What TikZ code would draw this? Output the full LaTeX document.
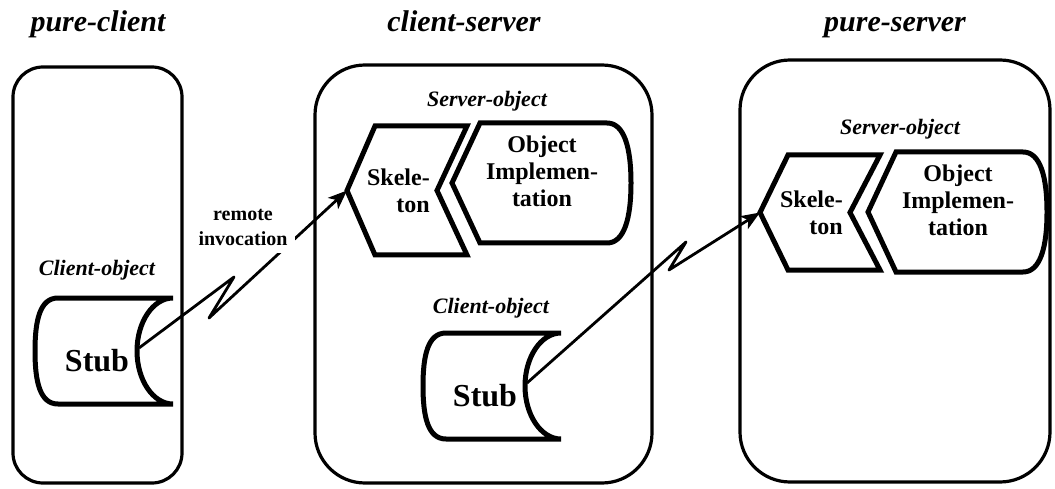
\documentclass[tikz,border=0pt]{standalone}
\usepackage{fontspec}
\setmainfont{Liberation Serif}
\usetikzlibrary{arrows.meta,calc}
\tikzset{>={Stealth[length=19pt,width=15pt,inset=5pt]}}
\tikzset{
  container/.style={line width=3.2pt,rounded corners=#1},
  partline/.style={line width=5pt},
  invoke/.style={->,line width=2.8pt,line join=round},
  title/.style={font=\bfseries\itshape\fontsize{30}{32}\selectfont,anchor=base},
  objlabel/.style={font=\bfseries\itshape\fontsize{22}{24}\selectfont,anchor=base},
  stubtext/.style={font=\bfseries\fontsize{32}{34}\selectfont,anchor=base},
  parttext/.style={font=\bfseries\fontsize{24}{27}\selectfont,inner sep=0pt},
  remote/.style={font=\bfseries\fontsize{20}{25}\selectfont,align=center,fill=white,inner sep=8pt},
}

% stub part: name, top-left corner
\newcommand{\stubpart}[2]{%
  \begin{scope}[shift={#2}]
    \draw[partline] (23,0) -- (138,0)
      .. controls (118,0) and (102,24) .. (102,53)
      .. controls (102,82) and (118,106) .. (138,106) -- (23,106)
      .. controls (5,106) and (0,84) .. (0,53)
      .. controls (0,22) and (5,0) .. (23,0) -- cycle;
    \node[stubtext] (#1) at (62,73) {Stub};
    \coordinate (#1-port) at (104,50);
  \end{scope}}

% skeleton part: name, tip x, top y, height
\newcommand{\skelpart}[4]{%
  \begin{scope}[shift={(#2,#3)}]
    \draw[partline] (28,0) -- (120,0) -- (90,#4/2) -- (120,#4) -- (28,#4) -- (0,#4/2) -- cycle;
    \node[parttext,anchor=east,align=right] (#1) at (83,#4/2) {Skele-\\ton};
    \coordinate (#1-tip) at (0,#4/2);
  \end{scope}}

% object implementation part: name, notch x, top y, height
\newcommand{\implpart}[4]{%
  \begin{scope}[shift={(#2,#3)}]
    \draw[partline] (0,#4/2) -- (28,0) -- (155,0)
      .. controls (172,0) and (179,#4*0.2) .. (179,#4/2)
      .. controls (179,#4*0.8) and (172,#4) .. (155,#4) -- (28,#4) -- cycle;
    \node[parttext,align=center] (#1) at (90,#4/2-12) {Object\\Implemen-\\tation};
  \end{scope}}

\begin{document}
\begin{tikzpicture}[x=1pt,y=-1pt]
  \useasboundingbox (0,0) rectangle (1055,489);

  % titles
  \node[title] (tClient) at (98,32) {pure-client};
  \node[title] (tBoth) at (464,32) {client-server};
  \node[title] (tServer) at (895,32) {pure-server};

  % containers
  \draw[container=30] (13,67) rectangle (182,483);
  \draw[container=50] (315,65) rectangle (652,483);
  \draw[container=50] (740,60) rectangle (1050,482);

  % pure-client
  \node[objlabel] (cobjL) at (97,275) {Client-object};
  \stubpart{stubL}{(35,298)}

  % client-server
  \node[objlabel] (sobjM) at (487,107) {Server-object};
  \skelpart{skelM}{347}{126}{129}
  \implpart{implM}{452}{123}{120}
  \node[objlabel] (cobjM) at (491,313) {Client-object};
  \stubpart{stubM}{(423,333)}

  % pure-server
  \node[objlabel] (sobjR) at (900,135) {Server-object};
  \skelpart{skelR}{760}{155}{115}
  \implpart{implR}{868}{152}{120}

  % invocations
  \draw[invoke] (stubL-port) -- ++(95,-71) -- ++(-25,41) -- (skelM-tip);
  \node[remote] (remote) at (243,227) {remote\\invocation};
  \draw[invoke] (stubM-port) -- ++(159,-141) -- ++(-17,28) -- (skelR-tip);
\end{tikzpicture}
\end{document}
